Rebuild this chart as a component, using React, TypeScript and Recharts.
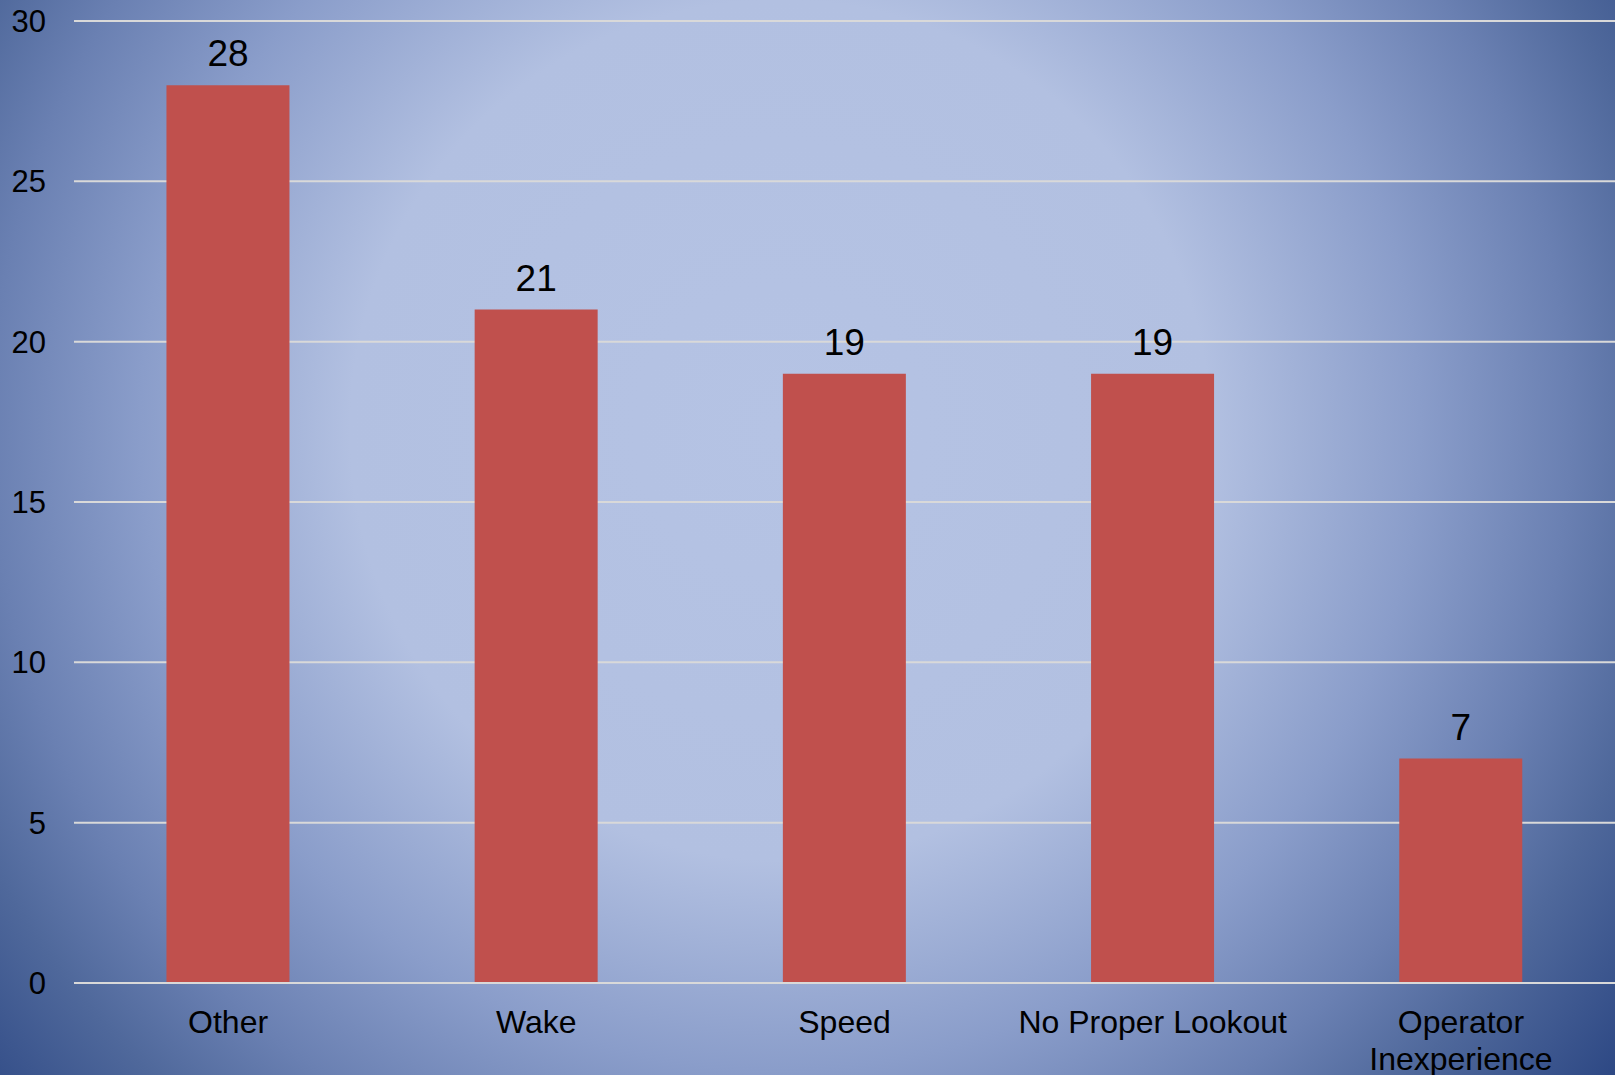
import { BarChart, Bar, XAxis, YAxis, CartesianGrid, LabelList } from 'recharts';

const CATEGORIES = ['Other', 'Wake', 'Speed', 'No Proper Lookout', 'Operator Inexperience'];
const COUNTS = [28, 21, 19, 19, 7];
const Y_TICKS = [0, 5, 10, 15, 20, 25, 30];

const data = CATEGORIES.map((name, i) => ({ name, count: COUNTS[i] }));

const FONT = '"Liberation Sans", Arial, sans-serif';

function CategoryTick({ x, y, payload }: any) {
  const label: string = payload.value;
  // long labels wrap onto two lines like the original
  const lines = label.length > 18 ? label.split(' ') : [label];
  return (
    <text x={x} y={y} textAnchor="middle" fill="#000" fontSize={32} fontFamily={FONT}>
      {lines.map((l, i) => (
        <tspan key={i} x={x} dy={i === 0 ? 50 : 37}>
          {l}
        </tspan>
      ))}
    </text>
  );
}

export default function App() {
  return (
    <div
      style={{
        position: 'absolute',
        left: 0,
        top: 0,
        width: 1615,
        height: 1075,
        background:
          'radial-gradient(circle 1070px at 780px 430px, #b5c3e4 0px, #b2c0e1 430px, #8a9dca 640px, #6a80b2 790px, #4f689b 900px, #2a4582 1070px)',
      }}
    >
      <BarChart
        width={1615}
        height={1075}
        data={data}
        margin={{ top: 21, right: 0, bottom: 0, left: 0 }}
        barCategoryGap="30%"
      >
        <CartesianGrid vertical={false} stroke="#d9d9d9" strokeWidth={2} />
        <XAxis
          dataKey="name"
          height={92}
          axisLine={{ stroke: '#d9d9d9', strokeWidth: 2 }}
          tickLine={false}
          tickSize={0}
          tickMargin={0}
          interval={0}
          tick={<CategoryTick />}
        />
        <YAxis
          width={74}
          domain={[0, 30]}
          ticks={Y_TICKS}
          axisLine={false}
          tickLine={false}
          tickSize={0}
          tickMargin={28}
          tick={{ fill: '#000', fontSize: 31, fontFamily: FONT }}
        />
        <Bar dataKey="count" fill="#c0504d" isAnimationActive={false}>
          <LabelList
            dataKey="count"
            position="top"
            offset={19}
            fill="#000"
            fontSize={37}
            fontFamily={FONT}
          />
        </Bar>
      </BarChart>
    </div>
  );
}
